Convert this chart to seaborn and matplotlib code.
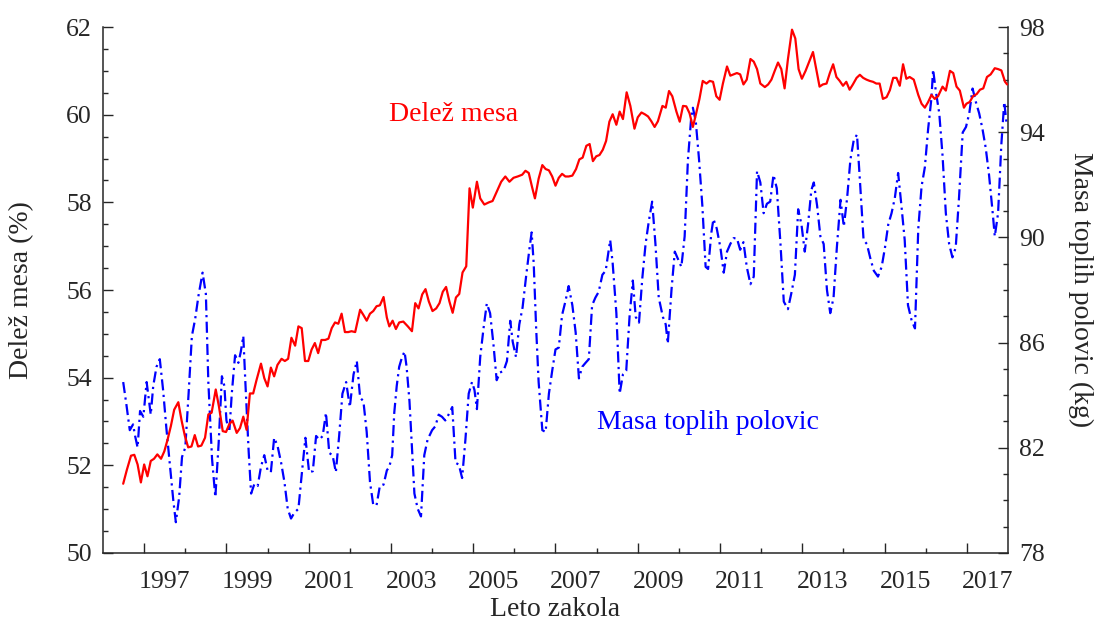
import matplotlib
matplotlib.use("Agg")
import matplotlib.pyplot as plt
import matplotlib.transforms as mtransforms
from matplotlib.ticker import MultipleLocator, FixedLocator, NullFormatter
import seaborn as sns
import pandas as pd

# Delež mesa (%) po mesecih zakola
delez_leto = [
    1996.49, 1996.58, 1996.68, 1996.76, 1996.84, 1996.92, 1997.00, 1997.08, 1997.16, 1997.24,
    1997.32, 1997.41, 1997.49, 1997.57, 1997.65, 1997.73, 1997.83, 1997.91, 1997.99, 1998.07,
    1998.15, 1998.23, 1998.31, 1998.39, 1998.48, 1998.56, 1998.64, 1998.74, 1998.82, 1998.91,
    1998.99, 1999.07, 1999.15, 1999.25, 1999.33, 1999.41, 1999.49, 1999.57, 1999.65, 1999.73,
    1999.84, 1999.92, 2000.00, 2000.08, 2000.16, 2000.24, 2000.34, 2000.42, 2000.50, 2000.58,
    2000.67, 2000.75, 2000.83, 2000.91, 2000.99, 2001.07, 2001.15, 2001.23, 2001.31, 2001.40,
    2001.48, 2001.56, 2001.64, 2001.72, 2001.80, 2001.88, 2001.96, 2002.04, 2002.13, 2002.25,
    2002.33, 2002.41, 2002.49, 2002.57, 2002.65, 2002.73, 2002.82, 2002.90,
    2002.96, 2003.04, 2003.12, 2003.20, 2003.30, 2003.41, 2003.51, 2003.59, 2003.67, 2003.76,
    2003.84, 2003.92, 2004.01, 2004.10, 2004.18, 2004.26, 2004.34, 2004.42, 2004.50, 2004.58,
    2004.66, 2004.74, 2004.83, 2004.91, 2004.99, 2005.09, 2005.17, 2005.27, 2005.38, 2005.47,
    2005.60, 2005.68, 2005.78, 2005.88, 2005.98, 2006.08, 2006.19, 2006.27, 2006.35, 2006.43,
    2006.50, 2006.59, 2006.68, 2006.76, 2006.84, 2006.92, 2007.00, 2007.08, 2007.16, 2007.24,
    2007.32, 2007.41, 2007.50, 2007.58, 2007.66, 2007.75, 2007.83, 2007.91, 2007.99, 2008.07,
    2008.15, 2008.23, 2008.31, 2008.39, 2008.48, 2008.56, 2008.64, 2008.73, 2008.82, 2008.92,
    2009.00, 2009.09, 2009.17, 2009.25, 2009.33, 2009.41, 2009.49,
    2009.60, 2009.68, 2009.76, 2009.84, 2009.94, 2010.02, 2010.10, 2010.18, 2010.26, 2010.34,
    2010.42, 2010.50, 2010.58, 2010.67, 2010.75, 2010.83, 2010.91, 2010.99, 2011.07, 2011.17,
    2011.25, 2011.33, 2011.41, 2011.49, 2011.57, 2011.65, 2011.74, 2011.82, 2011.90, 2011.98,
    2012.09, 2012.17, 2012.25, 2012.33, 2012.41, 2012.49, 2012.57, 2012.65, 2012.75, 2012.83,
    2012.91, 2012.99, 2013.08, 2013.16, 2013.26, 2013.34, 2013.42, 2013.50, 2013.59, 2013.67,
    2013.75, 2013.83, 2013.91, 2013.99, 2014.07, 2014.15, 2014.23, 2014.32, 2014.40, 2014.48,
    2014.56, 2014.64, 2014.72, 2014.80, 2014.88, 2014.96, 2015.05, 2015.13, 2015.21, 2015.29,
    2015.37, 2015.45, 2015.53, 2015.61, 2015.71, 2015.82, 2015.90, 2015.98, 2016.06, 2016.14,
    2016.22, 2016.30, 2016.41, 2016.49, 2016.59, 2016.67, 2016.75, 2016.83, 2016.93, 2016.99,
    2017.07, 2017.15, 2017.24, 2017.32, 2017.40, 2017.49, 2017.58, 2017.68, 2017.76, 2017.84,
    2017.93, 2017.98,
]
delez_mesa = [
    51.58, 51.90, 52.22, 52.24, 52.02, 51.61, 52.02, 51.75, 52.10, 52.15,
    52.25, 52.15, 52.32, 52.59, 52.90, 53.27, 53.44, 53.02, 52.67, 52.41,
    52.43, 52.69, 52.43, 52.45, 52.63, 53.16, 53.20, 53.73, 53.33, 52.78,
    52.76, 52.94, 53.02, 52.74, 52.85, 53.11, 52.81, 53.64, 53.64, 53.94,
    54.32, 53.99, 53.80, 54.23, 54.03, 54.29, 54.43, 54.38, 54.43, 54.91,
    54.73, 55.17, 55.13, 54.38, 54.38, 54.64, 54.79, 54.56, 54.86, 54.86,
    54.89, 55.13, 55.26, 55.23, 55.46, 55.04, 55.04, 55.06, 55.04, 55.55,
    55.43, 55.30, 55.46, 55.52, 55.63, 55.65, 55.84, 55.37,
    55.17, 55.30, 55.11, 55.26, 55.28, 55.17, 55.06, 55.70, 55.58, 55.90,
    56.02, 55.74, 55.52, 55.58, 55.70, 55.96, 56.07, 55.74, 55.48, 55.83,
    55.91, 56.40, 56.54, 58.32, 57.88, 58.47, 58.09, 57.95, 58.00, 58.03,
    58.30, 58.47, 58.59, 58.47, 58.56, 58.59, 58.63, 58.72, 58.67, 58.35,
    58.09, 58.54, 58.85, 58.76, 58.73, 58.59, 58.38, 58.56, 58.65, 58.59,
    58.59, 58.61, 58.76, 58.98, 59.02, 59.29, 59.33, 58.94, 59.05, 59.08,
    59.20, 59.40, 59.84, 60.01, 59.77, 60.07, 59.90, 60.51, 60.20, 59.68,
    59.94, 60.05, 60.01, 59.96, 59.85, 59.72, 59.85,
    60.20, 60.16, 60.54, 60.42, 60.07, 59.84, 60.20, 60.19, 60.03, 59.72,
    60.03, 60.36, 60.77, 60.71, 60.77, 60.75, 60.42, 60.34, 60.71, 61.10,
    60.89, 60.92, 60.95, 60.92, 60.69, 60.80, 61.27, 61.21, 61.04, 60.71,
    60.63, 60.69, 60.80, 61.00, 61.19, 61.04, 60.60, 61.26, 61.94, 61.74,
    61.04, 60.82, 61.00, 61.19, 61.43, 61.04, 60.64, 60.69, 60.71, 60.95,
    61.15, 60.86, 60.77, 60.66, 60.75, 60.57, 60.69, 60.84, 60.91, 60.84,
    60.80, 60.77, 60.75, 60.71, 60.71, 60.36, 60.40, 60.56, 60.84, 60.84,
    60.66, 61.15, 60.82, 60.86, 60.80, 60.45, 60.25, 60.16, 60.29, 60.45,
    60.36, 60.42, 60.64, 60.55, 61.00, 60.95, 60.64, 60.55, 60.16, 60.25,
    60.29, 60.42, 60.47, 60.57, 60.60, 60.86, 60.92, 61.06, 61.04, 61.01,
    60.75, 60.69,
]

# Masa toplih polovic (kg) po mesecih zakola
masa_leto = [
    1996.49, 1996.57, 1996.65, 1996.73, 1996.78, 1996.84, 1996.90, 1996.98, 1997.06, 1997.12,
    1997.16, 1997.22, 1997.30, 1997.38, 1997.46, 1997.54, 1997.63, 1997.71, 1997.77, 1997.85,
    1997.92, 1998.00, 1998.08, 1998.16, 1998.24, 1998.32, 1998.42, 1998.50, 1998.56, 1998.65,
    1998.73, 1998.81, 1998.89, 1998.95, 1999.00, 1999.07, 1999.13, 1999.21, 1999.29, 1999.35,
    1999.41, 1999.46, 1999.54, 1999.60, 1999.68, 1999.76, 1999.84, 1999.92, 2000.00, 2000.08,
    2000.16, 2000.24, 2000.33, 2000.41, 2000.49, 2000.57, 2000.65, 2000.75, 2000.84, 2000.92,
    2001.01, 2001.10, 2001.18, 2001.26, 2001.34, 2001.42, 2001.50, 2001.58, 2001.66, 2001.74,
    2001.82, 2001.91, 2002.00, 2002.09, 2002.17, 2002.25, 2002.33, 2002.41, 2002.49, 2002.57,
    2002.65, 2002.73, 2002.82, 2002.90,
    2002.96, 2003.03, 2003.08, 2003.14, 2003.20, 2003.27, 2003.33, 2003.38, 2003.45, 2003.51,
    2003.57, 2003.65, 2003.73, 2003.81, 2003.89, 2004.00, 2004.08, 2004.16, 2004.24, 2004.32,
    2004.40, 2004.49, 2004.57, 2004.65, 2004.73, 2004.81, 2004.89, 2004.97, 2005.03, 2005.09,
    2005.17, 2005.25, 2005.33, 2005.41, 2005.49, 2005.57, 2005.65, 2005.74, 2005.82, 2005.90,
    2005.96, 2006.04, 2006.12, 2006.20, 2006.29, 2006.37, 2006.42, 2006.47, 2006.53, 2006.59,
    2006.68, 2006.76, 2006.84, 2006.92, 2007.00, 2007.08, 2007.16, 2007.24, 2007.32, 2007.41,
    2007.49, 2007.57, 2007.65, 2007.73, 2007.81, 2007.89, 2007.97, 2008.05, 2008.14, 2008.22,
    2008.33, 2008.39, 2008.48, 2008.56, 2008.64, 2008.72, 2008.80, 2008.88, 2008.95, 2009.03,
    2009.11, 2009.19, 2009.27, 2009.35, 2009.43, 2009.51,
    2009.61, 2009.68, 2009.73, 2009.82, 2009.90, 2009.98, 2010.06, 2010.14, 2010.22, 2010.30,
    2010.34, 2010.41, 2010.49, 2010.57, 2010.65, 2010.71, 2010.79, 2010.84, 2010.92, 2011.01,
    2011.09, 2011.17, 2011.25, 2011.33, 2011.41, 2011.49, 2011.57, 2011.65, 2011.74, 2011.82,
    2011.90, 2011.98, 2012.06, 2012.14, 2012.22, 2012.30, 2012.38, 2012.47, 2012.55, 2012.65,
    2012.73, 2012.82, 2012.90, 2012.98, 2013.06, 2013.14, 2013.22, 2013.28, 2013.36, 2013.44,
    2013.52, 2013.60, 2013.68, 2013.76, 2013.84, 2013.93, 2014.01, 2014.09, 2014.17, 2014.25,
    2014.33, 2014.41, 2014.49, 2014.57, 2014.66, 2014.74, 2014.84, 2014.93, 2015.01, 2015.09,
    2015.17, 2015.25, 2015.33, 2015.41, 2015.49, 2015.57, 2015.66, 2015.74, 2015.82, 2015.90,
    2015.98, 2016.06, 2016.14, 2016.18, 2016.25, 2016.33, 2016.41, 2016.49, 2016.57, 2016.65,
    2016.73, 2016.81, 2016.90, 2016.98, 2017.06, 2017.14, 2017.22, 2017.30, 2017.38, 2017.46,
    2017.54, 2017.63, 2017.68, 2017.76, 2017.84, 2017.91, 2017.97,
]
masa_polovic = [
    84.50, 83.62, 82.67, 82.89, 82.45, 82.01, 83.40, 83.18, 84.50, 83.77,
    83.26, 84.35, 85.08, 85.37, 84.20, 82.74, 81.28, 79.97, 79.17, 80.12,
    81.65, 82.01, 84.06, 86.25, 86.90, 87.78, 88.66, 87.85, 84.50, 81.58,
    80.12, 82.16, 84.72, 84.35, 83.04, 82.60, 84.06, 85.52, 85.23, 85.66,
    86.25, 84.50, 81.87, 80.26, 80.63, 80.55, 81.28, 81.72, 81.14, 81.07,
    82.38, 82.09, 81.43, 80.70, 79.68, 79.31, 79.53, 79.68, 81.14, 82.38,
    81.07, 81.11, 82.45, 82.31, 82.45, 83.33, 81.80, 81.72, 81.07, 82.45,
    84.06, 84.50, 83.55, 84.79, 85.30, 83.91, 83.77, 82.60, 80.70, 79.82,
    79.82, 80.55, 80.60, 81.14,
    81.28, 81.72, 83.33, 84.35, 85.08, 85.45, 85.66, 85.08, 83.77, 82.01,
    80.26, 79.68, 79.39, 81.72, 82.31, 82.67, 82.82, 83.26, 83.18, 83.04,
    83.26, 83.55, 81.43, 81.36, 80.85, 82.31, 84.06, 84.50, 84.20, 83.47,
    85.45, 86.54, 87.49, 87.12, 85.96, 84.57, 84.86, 84.93, 85.30, 86.83,
    86.03, 85.45, 86.69, 87.34, 88.58, 89.61, 90.19, 89.02, 86.54, 84.50,
    82.67, 82.60, 84.06, 84.93, 85.74, 85.81, 87.05, 87.56, 88.15, 87.42,
    86.39, 84.64, 85.08, 85.23, 85.37, 87.42, 87.71, 87.93, 88.58, 88.73,
    89.90, 89.02, 87.12, 84.06, 84.79, 84.93, 86.98, 88.36, 86.98, 86.76,
    88.44, 89.75, 90.63, 91.36, 89.75, 87.71,
    86.98, 86.69, 85.96, 88.00, 89.46, 89.17, 88.88, 90.04, 92.96, 94.57,
    94.93, 94.42, 92.96, 91.21, 88.88, 88.80, 90.19, 90.70, 90.34, 89.61,
    88.66, 89.46, 89.75, 89.97, 89.97, 89.53, 89.82, 88.88, 88.22, 88.51,
    92.52, 92.09, 90.92, 91.28, 91.36, 92.38, 91.87, 89.75, 87.56, 87.27,
    87.85, 88.58, 91.07, 90.49, 89.46, 90.49, 91.80, 92.09, 91.21, 90.04,
    89.75, 88.00, 87.12, 87.71, 89.61, 91.43, 90.41, 91.50, 92.96, 93.69,
    93.91, 91.94, 89.90, 89.75, 89.17, 88.73, 88.51, 88.88, 89.61, 90.49,
    90.92, 91.50, 92.45, 91.21, 89.90, 87.42, 86.83, 86.54, 90.34, 91.94,
    92.67, 94.13, 95.30, 96.39, 95.52, 94.72, 93.11, 90.92, 89.75, 89.24,
    89.61, 91.50, 93.99, 94.20, 94.72, 95.66, 95.15, 94.72, 94.13, 93.40,
    92.38, 90.92, 90.04, 90.92, 93.55, 95.15, 94.28,
]

# Oznake let na vodoravni osi in oznake na desni osi
leta_oznake = list(range(1997, 2018, 2))
masa_oznake = [78, 82, 86, 90, 94, 98]

delez_df = pd.DataFrame({"leto": delez_leto, "delez": delez_mesa})
masa_df = pd.DataFrame({"leto": masa_leto, "masa": masa_polovic})

sns.set_style("ticks")
plt.rcParams["font.family"] = ["Liberation Serif", "DejaVu Serif"]
plt.rcParams["axes.linewidth"] = 1.1

RDECA = "#ff0000"
MODRA = "#0000ff"

fig = plt.figure(figsize=(10.95, 6.24), dpi=100)
ax = fig.add_axes([0.0941, 0.1138, 0.8264, 0.8429])
ax2 = ax.twinx()

sns.lineplot(data=delez_df, x="leto", y="delez", ax=ax, color=RDECA,
             linewidth=1.6, estimator=None, sort=False)
sns.lineplot(data=masa_df, x="leto", y="masa", ax=ax2, color=MODRA,
             linewidth=1.6, linestyle=(0, (5, 2, 1, 2)), estimator=None, sort=False)

ax.set_xlim(1996, 2018)
ax.set_ylim(50, 62)
ax2.set_ylim(78, 98)

# Spines: left and bottom on the main axes, right on the twin
ax.spines["top"].set_visible(False)
ax.spines["right"].set_visible(False)
for s in ("top", "left", "bottom"):
    ax2.spines[s].set_visible(False)
ax2.spines["right"].set_linewidth(1.1)

# Left axis ticks
ax.yaxis.set_major_locator(MultipleLocator(2))
ax.yaxis.set_minor_locator(MultipleLocator(0.5))
ax.tick_params(axis="y", which="major", direction="in", length=7.5, width=1.0,
               pad=8, labelsize=18.5, left=True, right=False)
ax.tick_params(axis="y", which="minor", direction="in", length=3.8, width=1.0,
               left=True, right=False)

# Right axis ticks
ax2.yaxis.set_major_locator(FixedLocator(masa_oznake))
ax2.yaxis.set_minor_locator(MultipleLocator(1))
ax2.tick_params(axis="y", which="major", direction="in", length=7.5, width=1.0,
                pad=8, labelsize=18.5)
ax2.tick_params(axis="y", which="minor", direction="in", length=3.8, width=1.0)

# Bottom axis: long ticks at odd years, short at even years, labels mid-year
ax.xaxis.set_major_locator(FixedLocator(leta_oznake))
ax.xaxis.set_minor_locator(FixedLocator(list(range(1998, 2018, 2))))
ax.xaxis.set_major_formatter(NullFormatter())
ax.tick_params(axis="x", which="major", direction="in", length=7, width=1.0, top=False)
ax.tick_params(axis="x", which="minor", direction="in", length=3.5, width=1.0, top=False)

trans = mtransforms.blended_transform_factory(ax.transData, ax.transAxes)
for leto in leta_oznake:
    ax.text(leto + 0.5, -0.055, str(leto), transform=trans, ha="center", va="center",
            fontsize=18.5)

ax.set_xlabel("Leto zakola", fontsize=20)
ax.xaxis.set_label_coords(0.5, -0.083)
ax.set_ylabel("Delež mesa (%)", fontsize=20)
ax.yaxis.set_label_coords(-0.076, 0.5)
ax2.set_ylabel("Masa toplih polovic (kg)", fontsize=20, rotation=270, va="bottom")
ax2.yaxis.set_label_coords(1.066, 0.5)

ax.text(2002.96, 60.0, "Delež mesa", color=RDECA, fontsize=20, ha="left", va="center")
ax2.text(2008.02, 82.95, "Masa toplih polovic", color=MODRA, fontsize=20,
         ha="left", va="center")

ax.set_zorder(ax2.get_zorder() + 1)
ax.patch.set_visible(False)

fig.savefig("out.png", dpi=100)
